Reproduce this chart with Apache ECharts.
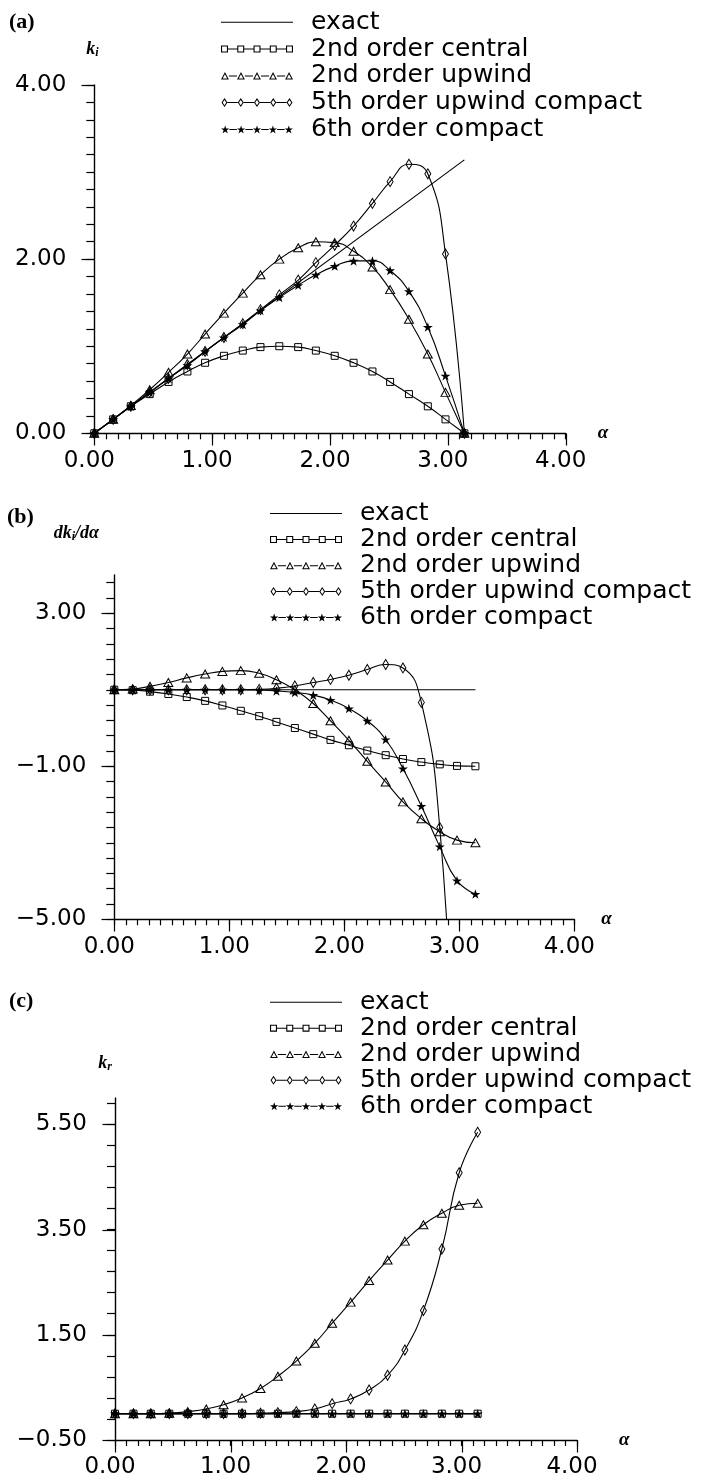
<!DOCTYPE html>
<html><head><meta charset="utf-8">
<script src="https://cdn.jsdelivr.net/npm/echarts@6/dist/echarts.min.js"></script>
<style>html,body{margin:0;padding:0;background:#fff}#c{width:720px;height:1480px}</style>
</head><body><div id="c"></div>
<script>
// ---------- data ----------
const ALPHA = [0.00, 0.16, 0.31, 0.47, 0.63, 0.79, 0.94, 1.10, 1.26, 1.41, 1.57, 1.73, 1.88, 2.04, 2.20, 2.36, 2.51, 2.67, 2.83, 2.98, 3.14];
const SERIES_NAMES = ['exact', '2nd order central', '2nd order upwind', '5th order upwind compact', '6th order compact'];

// (a) k_i
const EXACT_X = [0, 3.14];
const KI_EXACT = [0, 3.14];
const KI_CENTRAL = [0, 0.16, 0.31, 0.45, 0.59, 0.71, 0.81, 0.89, 0.95, 0.99, 1.00, 0.99, 0.95, 0.89, 0.81, 0.71, 0.59, 0.45, 0.31, 0.16, 0];
const KI_UPWIND = [0, 0.16, 0.32, 0.50, 0.70, 0.91, 1.14, 1.38, 1.61, 1.82, 2.00, 2.13, 2.20, 2.19, 2.09, 1.91, 1.65, 1.31, 0.91, 0.47, 0];
const KI_UPCOMPACT5 = [0, 0.16, 0.31, 0.47, 0.63, 0.79, 0.94, 1.10, 1.26, 1.42, 1.59, 1.76, 1.96, 2.16, 2.38, 2.64, 2.89, 3.09, 2.98, 2.06, 0];
const KI_COMPACT6 = [0, 0.16, 0.31, 0.47, 0.63, 0.78, 0.94, 1.10, 1.25, 1.41, 1.56, 1.70, 1.82, 1.92, 1.98, 1.98, 1.87, 1.63, 1.22, 0.66, 0];

// (b) dk_i/dalpha
const DKI_EXACT = [1, 1];
const DKI_CENTRAL = [1.00, 0.99, 0.95, 0.89, 0.81, 0.71, 0.59, 0.45, 0.31, 0.16, 0.00, -0.16, -0.31, -0.45, -0.59, -0.71, -0.81, -0.89, -0.95, -0.99, -1.00];
const DKI_UPWIND = [1.00, 1.02, 1.09, 1.19, 1.31, 1.41, 1.48, 1.50, 1.43, 1.26, 1.00, 0.64, 0.19, -0.32, -0.87, -1.41, -1.93, -2.37, -2.71, -2.93, -3.00];
const DKI_UPCOMPACT5 = [1.00, 1.00, 1.00, 1.00, 1.00, 1.00, 1.00, 1.00, 1.01, 1.04, 1.10, 1.19, 1.27, 1.38, 1.53, 1.66, 1.57, 0.67, -2.60, -10.0, -16.0];
const DKI_COMPACT6 = [1.00, 1.00, 1.00, 1.00, 1.00, 1.00, 1.00, 1.00, 0.99, 0.97, 0.93, 0.86, 0.73, 0.51, 0.19, -0.30, -1.06, -2.04, -3.10, -3.99, -4.34];

// (c) k_r
const KR_EXACT = [0, 0];
const KR_CENTRAL = [0, 0, 0, 0, 0, 0, 0, 0, 0, 0, 0, 0, 0, 0, 0, 0, 0, 0, 0, 0, 0];
const KR_UPWIND = [0, 0, 0, 0.01, 0.04, 0.09, 0.17, 0.30, 0.48, 0.71, 1.00, 1.34, 1.72, 2.12, 2.53, 2.92, 3.28, 3.59, 3.81, 3.96, 4.00];
const KR_UPCOMPACT5 = [0, 0, 0, 0, 0, 0, 0, 0, 0.01, 0.02, 0.04, 0.09, 0.19, 0.28, 0.45, 0.73, 1.21, 1.96, 3.13, 4.58, 5.35];
const KR_COMPACT6 = [0, 0, 0, 0, 0, 0, 0, 0, 0, 0, 0, 0, 0, 0, 0, 0, 0, 0, 0, 0, 0];

// tick labels / tick spacing
const X_LABELS = [0, 1, 2, 3, 4];
const X_MIN = 0, X_MAX = 4, X_MINOR_STEP = 0.1;
const A_Y_LABELS = [0, 2, 4];
const A_Y_MIN = 0, A_Y_MAX = 4, A_MINOR_STEP = 0.2, A_MINOR_LAST = 4;
const B_Y_LABELS = [-5, -1, 3];
const B_Y_MIN = -5, B_Y_MAX = 4, B_MINOR_STEP = 0.4, B_MINOR_LAST = 3.8;
const C_Y_LABELS = [-0.5, 1.5, 3.5, 5.5];
const C_Y_MIN = -0.5, C_Y_MAX = 6.0, C_MINOR_STEP = 0.4, C_MINOR_LAST = 5.9;

// ---------- styling ----------
const FONT = "'DejaVu Sans', sans-serif";
const SERIF = "'Liberation Serif', 'DejaVu Serif', serif";
const fmt = v => (v < 0 ? '\u2212' : '') + Math.abs(v).toFixed(2);
function tickList(min, last, step) {
  const out = [];
  for (let k = 0; min + k * step <= last + 1e-9; k++) out.push(+(min + k * step).toFixed(4));
  return out;
}
const X_TICKS = tickList(X_MIN, X_MAX, X_MINOR_STEP);
const A_Y_TICKS = tickList(A_Y_MIN, A_MINOR_LAST, A_MINOR_STEP);
const B_Y_TICKS = tickList(B_Y_MIN, B_MINOR_LAST, B_MINOR_STEP);
const C_Y_TICKS = tickList(C_Y_MIN, C_MINOR_LAST, C_MINOR_STEP);

const STAR = 'path://M0,-1L0.2245,-0.309L0.951,-0.309L0.3633,0.118L0.5878,0.809L0,0.382L-0.5878,0.809L-0.3633,0.118L-0.951,-0.309L-0.2245,-0.309Z';

function pts(a){ return a.map(p => p[0].toFixed(2) + ',' + p[1].toFixed(2)).join('L'); }
function ring(outer, inner){ return 'M' + pts(outer) + 'Z' + 'M' + pts(inner.slice().reverse()) + 'Z'; }
function legendIcon(kind){
  if (kind === 'none') return 'path://M0,4L72,4L72,5L0,5Z';
  const cs = [3.5, 19.75, 36, 52.25, 68.5];
  const hw = {rect: 3.5, tri: 4, dia: 3, star: 4.3}[kind];
  let d = '';
  for (let k = 0; k < 4; k++) { const x1 = cs[k] + hw, x2 = cs[k + 1] - hw; d += 'M' + pts([[x1,4],[x2,4],[x2,5],[x1,5]]) + 'Z'; }
  cs.forEach(cx => {
    if (kind === 'rect') d += ring([[cx-3.5,1],[cx+3.5,1],[cx+3.5,8],[cx-3.5,8]], [[cx-2.4,2.1],[cx+2.4,2.1],[cx+2.4,6.9],[cx-2.4,6.9]]);
    if (kind === 'tri') d += ring([[cx,0.5],[cx+4,8],[cx-4,8]], [[cx,2.7],[cx+2.3,7],[cx-2.3,7]]);
    if (kind === 'dia') d += ring([[cx,0],[cx+3,4.5],[cx,9],[cx-3,4.5]], [[cx,1.8],[cx+1.8,4.5],[cx,7.2],[cx-1.8,4.5]]);
    if (kind === 'star') {
      const R = 4.5, r = 1.75, cy = 4.93, p = [];
      for (let i = 0; i < 10; i++) { const ang = (-90 + 36 * i) * Math.PI / 180, rr = i % 2 ? r : R; p.push([cx + rr * Math.cos(ang), cy + rr * Math.sin(ang)]); }
      d += 'M' + pts(p) + 'Z';
    }
  });
  return 'path://' + d;
}
const ICON_KIND = ['none', 'rect', 'tri', 'dia', 'star'];

const STYLE = [
  {symbol: 'none'},
  {symbol: 'rect', symbolSize: 7, hollow: true},
  {symbol: 'triangle', symbolSize: [9, 8], hollow: true},
  {symbol: 'diamond', symbolSize: [6, 10], hollow: true},
  {symbol: STAR, symbolSize: 10, hollow: false}
];

const grids = [
  {left: 94.3, top: 85, width: 471.4, height: 348.3, outerBoundsMode: 'none'},
  {left: 114.3, top: 575, width: 460, height: 344.3, outerBoundsMode: 'none'},
  {left: 115, top: 1098, width: 462, height: 342, outerBoundsMode: 'none'}
];

const tickLine = {color: '#000', width: 1.2};
const axisLineStyle = {show: true, onZero: false, lineStyle: {color: '#000', width: 1.4}};
const labelStyle = {color: '#000', fontFamily: FONT, fontSize: 23};

// every tick (minor and major) is an axis tick; majors get extended below
function xAxisMain(gi, nameGap) {
  return {
    type: 'value', gridIndex: gi, min: X_MIN, max: X_MAX, position: 'bottom',
    axisLine: axisLineStyle,
    axisTick: {show: true, length: 6, lineStyle: tickLine, customValues: X_TICKS},
    splitLine: {show: false},
    axisLabel: Object.assign({formatter: fmt, margin: 16, padding: [0, 10, 0, 0], customValues: X_LABELS}, labelStyle),
    name: 'α', nameLocation: 'end', nameGap: nameGap,
    nameTextStyle: {fontFamily: SERIF, fontWeight: 'bold', fontStyle: 'italic', fontSize: 19, color: '#000'}
  };
}
const nameRich = {
  k: {fontFamily: SERIF, fontStyle: 'italic', fontWeight: 'bold', fontSize: 18, lineHeight: 19, verticalAlign: 'top', color: '#000'},
  s: {fontFamily: SERIF, fontStyle: 'italic', fontWeight: 'bold', fontSize: 12, lineHeight: 12, verticalAlign: 'bottom', color: '#000'}
};
function yAxisMain(gi, min, max, ticks, labels, name, nameGap, shift) {
  return {
    type: 'value', gridIndex: gi, min: min, max: max, position: 'left',
    axisLine: axisLineStyle,
    axisTick: {show: true, length: 8, lineStyle: tickLine, customValues: ticks},
    splitLine: {show: false},
    axisLabel: Object.assign({formatter: fmt, margin: 28, customValues: labels}, labelStyle),
    name: name, nameLocation: 'end', nameGap: nameGap,
    nameTextStyle: {rich: nameRich, padding: [0, 2 * shift, 0, 0]}
  };
}

const xAxes = [xAxisMain(0, 32), xAxisMain(1, 27), xAxisMain(2, 42)];
const yAxes = [
  yAxisMain(0, A_Y_MIN, A_Y_MAX, A_Y_TICKS, A_Y_LABELS, '{k|k}{s|i}', 26, 2),
  yAxisMain(1, B_Y_MIN, B_Y_MAX, B_Y_TICKS, B_Y_LABELS, '{k|dk}{s|i}{k|/dα}', 32, 38),
  yAxisMain(2, C_Y_MIN, C_Y_MAX, C_Y_TICKS, C_Y_LABELS, '{k|k}{s|r}', 25, 10)
];

const PANELS = [
  {ax: 0, yMin: A_Y_MIN, yLabels: A_Y_LABELS, exact: KI_EXACT, sets: [KI_CENTRAL, KI_UPWIND, KI_UPCOMPACT5, KI_COMPACT6]},
  {ax: 1, yMin: B_Y_MIN, yLabels: B_Y_LABELS, exact: DKI_EXACT, sets: [DKI_CENTRAL, DKI_UPWIND, DKI_UPCOMPACT5, DKI_COMPACT6]},
  {ax: 2, yMin: C_Y_MIN, yLabels: C_Y_LABELS, exact: KR_EXACT, sets: [KR_CENTRAL, KR_UPWIND, KR_UPCOMPACT5, KR_COMPACT6]}
];

// longer major ticks, placed through the axes' own scales
function majorTicks(dir, len) {
  return function (params, api) {
    const p = api.coord([api.value(0), api.value(1)]);
    const x = Math.round(p[0]) + 0.5, y = Math.round(p[1]) + 0.5;
    const shape = dir === 'x' ? {x1: x, y1: y, x2: x, y2: y + len} : {x1: x, y1: y, x2: x - len, y2: y};
    return {type: 'line', shape: shape, style: {stroke: '#000', lineWidth: 1.2}, silent: true};
  };
}

const series = [];
PANELS.forEach(p => {
  series.push({
    type: 'custom', xAxisIndex: p.ax, yAxisIndex: p.ax, clip: false, silent: true, z: 1,
    data: X_LABELS.map(v => [v, p.yMin]), renderItem: majorTicks('x', 12)
  });
  series.push({
    type: 'custom', xAxisIndex: p.ax, yAxisIndex: p.ax, clip: false, silent: true, z: 1,
    data: p.yLabels.map(v => [X_MIN, v]), renderItem: majorTicks('y', 13)
  });
  series.push({
    type: 'line', name: SERIES_NAMES[0], xAxisIndex: p.ax, yAxisIndex: p.ax,
    data: EXACT_X.map((x, i) => [x, p.exact[i]]), showSymbol: false, symbol: 'none',
    lineStyle: {color: '#000', width: 1.1}, itemStyle: {color: '#000'},
    emphasis: {disabled: true}, z: 2
  });
  p.sets.forEach((arr, k) => {
    const st = STYLE[k + 1];
    series.push({
      type: 'line', name: SERIES_NAMES[k + 1], xAxisIndex: p.ax, yAxisIndex: p.ax,
      data: ALPHA.map((a, i) => [a, arr[i]]), smooth: true, showSymbol: true, showAllSymbol: true,
      symbol: st.symbol, symbolSize: st.symbolSize, symbolKeepAspect: true,
      lineStyle: {color: '#000', width: 1.1},
      itemStyle: st.hollow ? {color: 'rgba(0,0,0,0)', borderColor: '#000', borderWidth: 1} : {color: '#000', borderWidth: 0},
      emphasis: {disabled: true}, z: 3 + k
    });
  });
});

function legend(left, top, gap) {
  return {
    orient: 'vertical', left: left, top: top, padding: 0, itemGap: gap,
    itemWidth: 72, itemHeight: 9, selectedMode: false,
    textStyle: {color: '#000', fontFamily: FONT, fontSize: 25, lineHeight: 24, padding: [0, 0, 0, 13]},
    data: SERIES_NAMES.map((n, i) => ({name: n, icon: legendIcon(ICON_KIND[i]), itemStyle: {color: '#000', borderWidth: 0}}))
  };
}

const titleStyle = {fontFamily: SERIF, fontWeight: 'bold', fontSize: 22, lineHeight: 22, color: '#000'};
const option = {
  animation: false,
  backgroundColor: '#fff',
  title: [
    {text: '(a)', left: 9, top: 11, padding: 0, textStyle: titleStyle},
    {text: '(b)', left: 7, top: 506, padding: 0, textStyle: titleStyle},
    {text: '(c)', left: 9, top: 990, padding: 0, textStyle: titleStyle}
  ],
  legend: [legend(221, 9.7, 1.8), legend(270, 501, 1), legend(270, 989.7, 1)],
  grid: grids,
  xAxis: xAxes,
  yAxis: yAxes,
  series: series
};

const chart = echarts.init(document.getElementById('c'), null, {renderer: 'canvas', width: 720, height: 1480});
chart.setOption(option);
</script>
</body></html>
